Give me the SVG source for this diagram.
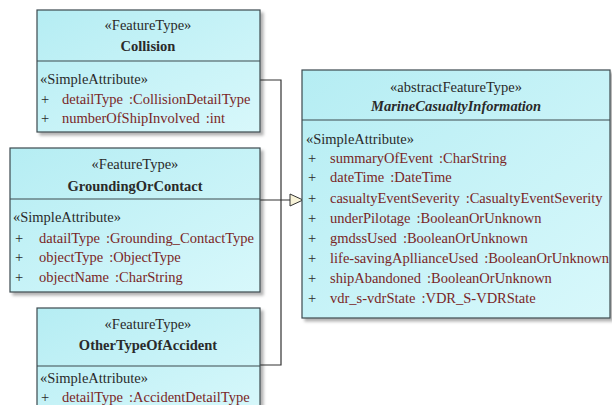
<svg xmlns="http://www.w3.org/2000/svg" width="612" height="405" viewBox="0 0 612 405">
<defs>
<linearGradient id="g" x1="0" y1="0" x2="1" y2="1">
<stop offset="0" stop-color="#b5edf3"/>
<stop offset="1" stop-color="#d8f8fb"/>
</linearGradient>
<filter id="sh" x="-5%" y="-5%" width="115%" height="115%">
<feDropShadow dx="3" dy="3" stdDeviation="1.5" flood-color="#000" flood-opacity="0.3"/>
</filter>
<marker id="tri" markerWidth="16" markerHeight="14" refX="14" refY="7" orient="auto" markerUnits="userSpaceOnUse">
<path d="M1,1 L14,7 L1,13 Z" fill="#f8f3d8" stroke="#333" stroke-width="1"/>
</marker>
</defs>
<style>
.box{fill:url(#g);stroke:#3d4a4e;stroke-width:1.2;filter:url(#sh)}
.sep{stroke:#3d4a4e;stroke-width:1.2}
text{font-size:14.5px;fill:#2a2a2a}
.st{text-anchor:middle}
.nm{text-anchor:middle;font-weight:bold}
.it{font-style:italic}
.at{fill:#7a2626}
.conn{fill:none;stroke:#333;stroke-width:1.2}
</style>
<rect width="612" height="405" fill="#fff"/>
<g id="connectors">
<polyline class="conn" points="260,80 281,80 281,365 260,365"/>
<line class="conn" x1="260" y1="200" x2="303" y2="200" marker-end="url(#tri)"/>
</g>
<g font-family="'Liberation Serif', serif">
<g id="collision">
<rect class="box" x="37" y="10" width="223" height="122"/>
<line class="sep" x1="37" y1="61" x2="260" y2="61"/>
<text class="st" x="148" y="30">«FeatureType»</text>
<text class="nm" x="148" y="51">Collision</text>
<text x="40" y="84">«SimpleAttribute»</text>
<text x="41" y="104">+</text><text class="at" x="62" y="104">detailType<tspan dx="6">:CollisionDetailType</tspan></text>
<text x="41" y="123">+</text><text class="at" x="62" y="123">numberOfShipInvolved<tspan dx="6">:int</tspan></text>
</g>
<g id="grounding">
<rect class="box" x="10" y="148" width="250" height="144"/>
<line class="sep" x1="10" y1="199" x2="260" y2="199"/>
<text class="st" x="135" y="169">«FeatureType»</text>
<text class="nm" x="135" y="191">GroundingOrContact</text>
<text x="13" y="222">«SimpleAttribute»</text>
<text x="15" y="243">+</text><text class="at" x="39" y="243">datailType<tspan dx="6">:Grounding_ContactType</tspan></text>
<text x="15" y="262">+</text><text class="at" x="39" y="262">objectType<tspan dx="6">:ObjectType</tspan></text>
<text x="15" y="282">+</text><text class="at" x="39" y="282">objectName<tspan dx="6">:CharString</tspan></text>
</g>
<g id="other">
<rect class="box" x="37" y="308" width="223" height="110"/>
<line class="sep" x1="37" y1="366" x2="260" y2="366"/>
<text class="st" x="148" y="329">«FeatureType»</text>
<text class="nm" x="148" y="350">OtherTypeOfAccident</text>
<text x="40" y="383">«SimpleAttribute»</text>
<text x="41" y="402">+</text><text class="at" x="62" y="402">detailType<tspan dx="6">:AccidentDetailType</tspan></text>
</g>
<g id="marine">
<rect class="box" x="302" y="70" width="308" height="248"/>
<line class="sep" x1="302" y1="120" x2="610" y2="120"/>
<text class="st" x="456" y="92">«abstractFeatureType»</text>
<text class="nm it" x="456" y="111">MarineCasualtyInformation</text>
<text x="306" y="144">«SimpleAttribute»</text>
<text x="308" y="163">+</text><text class="at" x="330" y="163">summaryOfEvent<tspan dx="6">:CharString</tspan></text>
<text x="308" y="182">+</text><text class="at" x="330" y="182">dateTime<tspan dx="6">:DateTime</tspan></text>
<text x="308" y="203">+</text><text class="at" x="330" y="203">casualtyEventSeverity<tspan dx="6">:CasualtyEventSeverity</tspan></text>
<text x="308" y="223">+</text><text class="at" x="330" y="223">underPilotage<tspan dx="6">:BooleanOrUnknown</tspan></text>
<text x="308" y="243">+</text><text class="at" x="330" y="243">gmdssUsed<tspan dx="6">:BooleanOrUnknown</tspan></text>
<text x="308" y="263">+</text><text class="at" x="330" y="263">life-savingApllianceUsed<tspan dx="6">:BooleanOrUnknown</tspan></text>
<text x="308" y="283">+</text><text class="at" x="330" y="283">shipAbandoned<tspan dx="6">:BooleanOrUnknown</tspan></text>
<text x="308" y="303">+</text><text class="at" x="330" y="303">vdr_s-vdrState<tspan dx="6">:VDR_S-VDRState</tspan></text>
</g>
</g>
</svg>
